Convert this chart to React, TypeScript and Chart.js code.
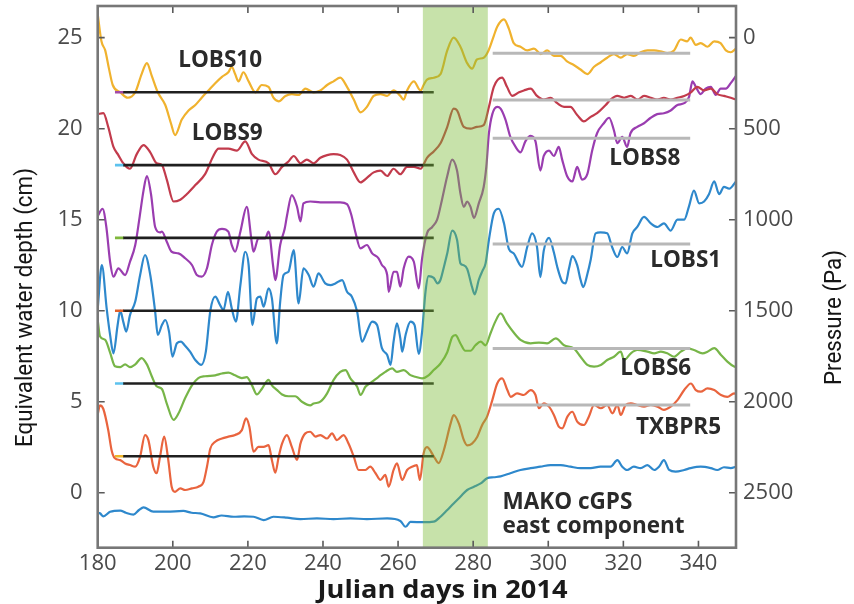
import React, { useEffect, useRef } from "react";
import { Chart, registerables } from "chart.js";

Chart.register(...registerables);

type Pair = [number, number];

// ---- series: [Julian day, equivalent water depth (cm)] ----
const lobs10: Pair[] = [
  [180, 26.3], [181, 24.8], [182, 24.3], [183, 23.3], [184, 22.4], [186, 22.0], [188, 21.7], [190, 22.0],
  [191.7, 23.0], [193.1, 23.6], [194.4, 22.9], [196, 22.0], [198, 21.3], [199.5, 20.3], [200.6, 19.65],
  [202.4, 20.5], [204.2, 21.0], [206, 21.3], [207.7, 21.7], [209.5, 22.1], [211.3, 22.5], [213.1, 22.85],
  [214.8, 23.1], [215.7, 23.4], [216.6, 23.0], [217.5, 22.6], [218.8, 23.1], [220.2, 22.6], [222, 22.0],
  [223.7, 22.4], [225.5, 22.3], [226.8, 21.7], [228.2, 21.5], [230, 21.8], [231.7, 21.9], [233.5, 21.85],
  [235.3, 22.2], [237.5, 22.0], [239.3, 22.1], [241.1, 22.4], [242.8, 22.6], [244.6, 22.8], [246.4, 22.3],
  [248.2, 21.6], [250, 20.9], [251.7, 21.2], [253.5, 21.8], [255.3, 21.9], [257.1, 21.8], [258.8, 22.1],
  [260.6, 21.8], [261.5, 21.6], [262.4, 22.1], [264.2, 22.6], [266, 22.1], [266.8, 22.4], [267.7, 22.7],
  [269.5, 22.8], [271.3, 23.0], [273.1, 24.3], [274.8, 25.0], [276.6, 24.5], [278.4, 23.6], [279.7, 23.3],
  [281, 23.8], [282.8, 23.9], [284.1, 24.3], [285.5, 25.1], [286.4, 25.6], [288.2, 26.0], [289.5, 25.5],
  [290.8, 24.7], [292.6, 24.5], [294.4, 24.3], [296.2, 24.4], [298, 24.1], [299.7, 24.3], [301.5, 24.0],
  [303.3, 24.0], [305, 23.7], [306.8, 23.5], [308.6, 23.25], [310.4, 23.0], [312.2, 23.4], [314, 23.65],
  [315.7, 23.9], [317.5, 24.1], [319.3, 23.9], [321, 24.1], [322.8, 24.0], [324.6, 24.2], [326.4, 24.3],
  [328.2, 24.3], [329.9, 24.25], [331.7, 24.15], [333.5, 24.3], [335.3, 24.9], [337, 24.8], [337.9, 25.0],
  [339.3, 24.6], [340.6, 24.7], [342.4, 24.5], [344.2, 24.8], [345.9, 24.7], [347.3, 24.3], [348.6, 24.2],
  [350, 24.4],
];

const lobs9: Pair[] = [
  [180, 20.8], [181.5, 20.85], [182.8, 20.1], [184.2, 19.0], [185.5, 18.55], [186.8, 18.1], [188.6, 17.8],
  [190.4, 18.6], [192.2, 19.1], [194, 18.7], [195.7, 18.1], [197.1, 18.0], [198.4, 17.2], [200.2, 16.0],
  [202, 16.1], [203.7, 16.4], [206, 16.9], [208.6, 17.5], [210.8, 18.5], [212.2, 18.9], [214.8, 18.9],
  [217.1, 18.8], [219.3, 19.3], [221.1, 18.6], [222.8, 18.3], [225.5, 18.1], [227.3, 17.5], [229.1, 17.9],
  [230.8, 18.2], [232.2, 18.5], [234, 18.1], [235.7, 18.3], [237.5, 18.1], [239.3, 18.4], [241.1, 18.55],
  [242.8, 18.6], [244.6, 18.55], [246.4, 18.3], [248.2, 17.6], [250, 17.05], [251.7, 17.3], [253.5, 17.6],
  [255.3, 17.7], [257.1, 17.4], [258.8, 17.8], [260.6, 17.5], [262.4, 17.9], [264.2, 17.9], [266, 17.8],
  [267.7, 18.4], [269.5, 18.75], [271.3, 19.2], [273.1, 20.1], [274.8, 21.1], [275.7, 21.0], [277.5, 20.1],
  [279.3, 20.0], [281, 20.1], [282.8, 20.2], [284.2, 21.2], [285.5, 22.3], [287.7, 22.8], [289, 22.3],
  [290.4, 21.8], [292.2, 22.0], [293.5, 22.1], [295.3, 22.2], [297, 21.8], [298.8, 21.6], [300.6, 21.7],
  [302.4, 21.4], [304.2, 21.2], [305.9, 21.2], [307.7, 20.75], [309.5, 20.4], [311.3, 20.65], [313, 20.85],
  [315.3, 21.3], [316.6, 21.6], [318.4, 21.8], [320.2, 21.7], [322, 21.8], [323.8, 21.6], [325.5, 21.8],
  [327.3, 21.7], [329, 21.6], [330.8, 21.7], [332.6, 21.6], [334.4, 21.7], [336.2, 21.8], [338, 22.0],
  [339.7, 22.3], [341.5, 22.1], [343.3, 22.2], [345, 21.9], [346.8, 21.8], [348.6, 21.7], [350, 21.6],
];

const lobs8: Pair[] = [
  [180, 15.2], [181.3, 15.6], [182.3, 14.6], [183.3, 12.69], [184.2, 11.87], [185.5, 12.33], [187.3, 11.96],
  [188.6, 12.69], [190, 13.61], [191.2, 15.2], [192.2, 16.6], [193.1, 17.4], [194.2, 16.4], [195.3, 14.6],
  [196.6, 14.3], [197.1, 14.34], [198.4, 13.79], [199.7, 13.24], [201.5, 13.15], [203.3, 12.88], [205.1, 12.51],
  [206.4, 11.96], [207.7, 11.87], [209.1, 12.33], [210.4, 13.61], [211.7, 14.34], [213.1, 14.5], [214.8, 14.34],
  [215.7, 13.61], [216.6, 13.24], [218, 14.34], [219.7, 15.7], [221, 13.8], [221.5, 13.24], [222.8, 13.97],
  [224.6, 13.97], [225.5, 14.34], [226.8, 12.33], [227.3, 11.68], [228.6, 13.61], [229.8, 14.5], [230.4, 15.2],
  [231.7, 16.35], [233.1, 15.7], [234, 14.9], [234.8, 15.9], [236.6, 16.0], [239.3, 15.95], [242, 15.95],
  [244.6, 15.95], [246.4, 15.85], [247.5, 15.3], [248.6, 14.34], [250, 13.42], [251.7, 13.61], [253.1, 13.15],
  [254.8, 12.88], [255.7, 12.51], [257.1, 11.96], [257.5, 11.04], [258.8, 12.14], [259.7, 12.14], [260.6, 11.32],
  [261.5, 12.33], [262.8, 12.97], [264.2, 12.69], [265.5, 11.23], [266.4, 12.88], [267.7, 14.25], [269.1, 14.6],
  [270.4, 15.0], [271.7, 16.1], [273.1, 17.4], [274.4, 18.3], [275.7, 17.7], [276.6, 16.45], [277.5, 15.7],
  [278.4, 16.0], [279.3, 15.7], [280.2, 15.1], [281.5, 15.9], [282.8, 16.8], [283.5, 17.9], [284.2, 19.75],
  [285.1, 20.8], [286.4, 21.2], [287.3, 21.1], [288.6, 20.5], [289.9, 19.55], [291.3, 19.0], [292.6, 18.7],
  [293.9, 19.3], [295.3, 19.6], [296.6, 19.3], [297.9, 17.7], [298.8, 18.5], [300.2, 18.8], [301.5, 18.5],
  [302.8, 19.0], [303.7, 18.3], [305, 17.4], [306.4, 17.1], [307.7, 17.9], [309, 17.2], [310.4, 17.5],
  [311.7, 18.8], [313, 19.75], [314.8, 20.3], [316.2, 20.6], [317.5, 19.9], [318.4, 19.2], [319.7, 19.55],
  [321, 19.0], [321.9, 19.75], [323.7, 20.1], [325.5, 20.3], [327.3, 20.6], [329, 20.8], [330.8, 20.85],
  [332.6, 21.0], [334.4, 21.3], [336.2, 21.4], [337.5, 21.75], [338.4, 22.6], [339.3, 22.3], [340.6, 21.9],
  [341.9, 22.2], [343.3, 22.3], [344.6, 21.85], [345.9, 22.2], [347.3, 22.2], [348.6, 22.5], [350, 22.9],
];

const lobs1: Pair[] = [
  [180, 10.1], [181.1, 12.5], [182.4, 10.1], [183.3, 8.67], [184.2, 7.66], [185.3, 9.2], [186, 10.0],
  [186.8, 9.4], [187.6, 8.85], [188.6, 9.76], [190, 10.5], [191.3, 11.96], [192.6, 13.06], [194, 11.96],
  [195.3, 9.95], [196, 8.67], [197.1, 9.21], [198, 9.49], [199, 8.85], [199.9, 7.48], [201.1, 8.21],
  [202.2, 8.3], [203.1, 8.12], [204.6, 7.75], [206, 7.29], [207.6, 7.02], [208.8, 7.75], [210, 10.0],
  [211.3, 10.77], [212.6, 10.31], [213.5, 10.04], [214.7, 11.04], [215.7, 10.13], [216.8, 9.4], [218, 11.41],
  [219.3, 13.24], [220.2, 12.51], [221.2, 9.21], [222.4, 10.68], [223.3, 10.77], [224.2, 10.22], [225.5, 11.23],
  [226.4, 10.68], [227.7, 8.21], [228.6, 10.49], [229.5, 11.96], [230.8, 12.14], [232.2, 13.33], [233.5, 10.4],
  [234.8, 12.33], [236.2, 11.96], [237.5, 11.32], [238.8, 12.05], [240.6, 11.5], [242, 11.41], [243.3, 11.5],
  [245.1, 11.68], [246.4, 11.04], [247.7, 10.77], [249.1, 9.95], [250.4, 8.3], [251.7, 8.85], [253.1, 9.4],
  [254.4, 9.21], [255.7, 7.94], [257.1, 7.57], [258, 7.02], [258.8, 8.3], [259.7, 9.31], [260.6, 8.48],
  [261.1, 7.75], [262, 8.67], [263.3, 9.4], [264.4, 9.21], [265.5, 7.63], [266.4, 8.85], [267.3, 11.04],
  [268.1, 11.9], [269.5, 11.8], [270.5, 11.5], [271.3, 11.7], [272.2, 12.4], [273.1, 13.15], [274.4, 14.4],
  [275.7, 13.9], [276.6, 12.6], [277.5, 12.5], [278.4, 12.3], [279.7, 11.3], [280.4, 10.9], [281.5, 11.7],
  [282.5, 12.2], [283.3, 12.6], [284.2, 13.9], [285.5, 15.35], [286.8, 15.6], [288.2, 14.8], [289.5, 13.4],
  [290.8, 13.15], [292.2, 12.6], [293, 12.4], [294.4, 13.5], [295.7, 14.25], [297, 13.5], [297.9, 11.85],
  [298.8, 13.3], [300.2, 14.0], [301.5, 13.2], [302.4, 12.4], [303.7, 11.6], [304.6, 11.5], [305.5, 12.3],
  [306.4, 13.0], [307.7, 12.5], [308.6, 11.7], [309.3, 11.3], [310.4, 12.0], [311.3, 12.8], [312.6, 14.25],
  [313.9, 14.3], [315.7, 14.25], [317, 13.5], [318.4, 12.95], [319.7, 13.5], [321, 13.15], [322.4, 14.25],
  [323.7, 14.6], [325.5, 15.15], [327.3, 14.8], [329.1, 14.6], [330.8, 14.8], [332.6, 14.4], [334.4, 15.0],
  [336.2, 15.0], [337.5, 15.75], [338.8, 16.6], [340.2, 15.9], [341.5, 16.0], [342.8, 16.4], [344.2, 17.1],
  [345.5, 16.4], [346.8, 16.8], [348.2, 16.7], [350, 17.1],
];

const lobs6: Pair[] = [
  [180, 9.5], [180.6, 8.6], [182, 8.4], [183.3, 7.7], [184.6, 6.95], [186, 6.9], [187.3, 7.05], [188.6, 6.9],
  [190, 7.05], [191.7, 7.4], [193.1, 7.05], [194.4, 6.4], [195.7, 5.85], [197.1, 5.7], [198.4, 4.9], [200.2, 4.0],
  [201.5, 4.35], [203.3, 5.2], [205.1, 5.9], [206.8, 6.3], [208.6, 6.4], [211.3, 6.45], [213.1, 6.55],
  [214.8, 6.6], [216.6, 6.45], [218.4, 6.3], [219.7, 6.35], [221.1, 5.9], [222.4, 5.4], [223.7, 5.7],
  [225.5, 6.2], [226.4, 5.9], [227.7, 5.65], [229.1, 5.4], [230.8, 5.3], [232.6, 5.3], [234.4, 5.0], [236.6, 4.8],
  [237.5, 4.9], [239.3, 5.0], [241.1, 5.46], [242.8, 6.19], [244.6, 6.64], [246, 6.74], [247.3, 6.28],
  [249.1, 5.82], [250, 5.37], [251.3, 5.82], [253.1, 6.1], [254.8, 6.37], [256.6, 6.64], [258.4, 6.83],
  [259.7, 6.64], [261.5, 6.74], [263.3, 6.46], [264.6, 6.37], [266.4, 6.28], [268.2, 6.46], [269.5, 6.74],
  [271.3, 7.1], [273.1, 7.72], [274.4, 8.55], [275.3, 8.66], [276.6, 8.2], [277.9, 7.8], [279.3, 7.8],
  [280.6, 8.1], [282, 8.3], [283.3, 8.1], [284.6, 8.75], [285.9, 9.4], [287.3, 9.85], [289, 9.3], [290.8, 8.8],
  [292.6, 8.4], [295.3, 8.21], [297.5, 8.25], [299.7, 8.21], [302, 8.48], [304.2, 8.1], [306.8, 7.93],
  [308.6, 7.47], [310.4, 7.02], [312.2, 6.93], [314, 7.02], [315.7, 7.29], [317.5, 7.47], [319.3, 7.75],
  [320.2, 7.29], [322, 7.66], [323.7, 7.84], [326.4, 7.75], [328.2, 7.66], [330, 7.75], [331.7, 7.66],
  [333.5, 7.47], [335.3, 7.75], [337.1, 7.93], [338.8, 7.84], [341.1, 7.66], [342.4, 7.75], [344.2, 7.94],
  [346, 7.57], [347.7, 7.2], [349.5, 6.93], [350, 6.9],
];

const txbpr5: Pair[] = [
  [180, 4.3], [180.6, 4.8], [181.5, 4.6], [182.8, 3.45], [183.7, 2.34], [184.6, 1.89], [186, 1.79], [187.3, 1.61],
  [188.6, 1.52], [190, 1.43], [191.3, 1.98], [192.6, 3.17], [193.5, 2.89], [194.8, 1.43], [195.7, 1.07],
  [196.6, 1.98], [197.7, 3.08], [198.8, 1.79], [199.7, 0.33], [200.6, 0.05], [202, 0.24], [203.3, 0.15],
  [205.1, 0.24], [206.8, 0.33], [208.2, 0.6], [209.1, 1.43], [210, 2.43], [211.3, 2.8], [213.1, 2.98],
  [214.8, 3.08], [216.6, 3.17], [218.4, 3.44], [219.5, 4.08], [220.4, 3.62], [221.5, 2.25], [222.8, 2.52],
  [224.2, 2.52], [225.5, 2.61], [226.4, 1.79], [227.3, 1.1], [228.2, 1.98], [229.1, 2.7], [230.4, 3.17],
  [231.7, 2.52], [233.1, 1.8], [234, 2.7], [235.3, 3.26], [236.6, 3.35], [238, 3.08], [239.3, 3.17],
  [241.1, 2.98], [242.4, 3.26], [243.7, 2.89], [245.5, 3.17], [246.8, 2.7], [248.2, 1.98], [249.5, 1.25],
  [251.3, 1.25], [252.6, 1.43], [254, 1.07], [255.3, 0.7], [256.6, 0.98], [257.5, 0.33], [258.8, 1.25],
  [259.7, 1.61], [261.1, 0.7], [262.4, 1.25], [263.7, 1.43], [265, 1.52], [265.8, 0.7], [266.8, 2.16],
  [267.7, 2.5], [269.5, 2.0], [270.8, 1.63], [272.2, 2.35], [274, 3.81], [274.8, 4.27], [276.2, 3.8],
  [277.5, 2.9], [278.4, 2.6], [279.7, 2.7], [281.1, 3.08], [282.4, 3.72], [283.7, 4.18], [285.1, 5.09],
  [286.4, 6.0], [287.7, 6.28], [289.1, 5.64], [290, 5.27], [291.7, 5.46], [293.5, 5.37], [295.3, 5.64],
  [296.6, 5.37], [297.5, 4.64], [298.8, 4.91], [300.2, 4.73], [301.5, 4.27], [302.8, 3.63], [303.7, 3.54],
  [305.1, 4.18], [306.4, 4.45], [307.7, 3.91], [309.5, 3.72], [310.8, 4.18], [312.2, 4.82], [314, 4.64],
  [315.7, 4.82], [317.1, 4.36], [318.4, 4.82], [319.3, 4.27], [320.6, 4.82], [322, 4.91], [323.7, 4.82],
  [325.5, 4.73], [327.3, 4.82], [329.1, 4.73], [330.8, 4.55], [332.6, 4.73], [334.4, 5.09], [336.2, 5.64],
  [338, 6.0], [339.3, 5.64], [340.6, 5.55], [342.4, 5.73], [344.2, 5.64], [346, 5.37], [347.7, 5.27],
  [349.5, 5.46], [350, 5.4],
];

const makoEast: Pair[] = [
  [180, -1.1], [180.6, -1.13], [181.5, -1.3], [183.3, -1.05], [186, -0.98], [187.5, -1.1], [189.5, -1.2],
  [191, -0.95], [192.2, -0.8], [194.8, -1.04], [198.4, -1.04], [202.8, -1.0], [205, -1.1], [207.3, -1.13],
  [210.8, -1.35], [213, -1.25], [216.2, -1.32], [219, -1.3], [221.5, -1.32], [224.2, -1.5], [226.8, -1.32],
  [230.4, -1.37], [234, -1.45], [238.4, -1.41], [242.8, -1.45], [247.3, -1.41], [251.7, -1.45], [257.1, -1.41],
  [260.6, -1.55], [262, -1.87], [263.3, -1.6], [266.8, -1.62], [269.5, -1.59], [271.3, -1.32], [273.1, -0.95],
  [274.8, -0.59], [276.6, -0.22], [278.4, 0.15], [280.2, 0.33], [282, 0.51], [283.7, 0.79], [285.5, 0.85],
  [287.3, 0.9], [289.9, 1.07], [292.6, 1.25], [295.3, 1.35], [297.9, 1.43], [300.6, 1.52], [303.3, 1.52],
  [305.9, 1.43], [308.6, 1.35], [311.3, 1.35], [313.9, 1.43], [316.6, 1.43], [318.4, 1.79], [319.7, 1.43],
  [321, 1.25], [322.8, 1.43], [324.6, 1.35], [326.4, 1.52], [328.2, 1.25], [329.5, 1.43], [330.8, 1.79],
  [332.2, 1.25], [333.9, 1.16], [336.2, 1.25], [337.9, 1.35], [340.6, 1.43], [343.3, 1.35], [345, 1.25],
  [346.8, 1.4], [348.6, 1.35], [350, 1.43],
];

// ---- reference levels (cm) ----
const preLevels = [22, 18, 14, 10, 6, 2];
const postLevels = [24.14, 21.58, 19.47, 13.67, 7.93, 4.82];
const preStubDays: Pair = [184.6, 187];
const preLineDays: Pair = [186.8, 269.5];
const postLineDays: Pair = [285.2, 337.8];
const slowSlipDays: Pair = [266.6, 283.9];

// ---- axes ----
const xRange: Pair = [180, 350];
const depthRange: Pair = [-3.02, 26.74];
const pressureRange: Pair = [-174, 2802];
const xTicks = [180, 200, 220, 240, 260, 280, 300, 320, 340];
const depthTicks = [0, 5, 10, 15, 20, 25];
const pressureTicks = [0, 500, 1000, 1500, 2000, 2500];

// ---- texts ----
const seriesNames = ["LOBS10", "LOBS9", "LOBS8", "LOBS1", "LOBS6", "TXBPR5"];
const seriesNameAt: Pair[] = [[212.6, 23.83], [214.5, 19.82], [325.7, 18.45], [336.6, 12.84], [328.6, 6.91], [334.7, 3.66]];
const makoText = ["MAKO cGPS", "east component"];
const makoTextAt: Pair[] = [[287.8, -0.46], [287.8, -1.78]];
const xTitle = "Julian days in 2014";
const yTitle = "Equivalent water depth (cm)";
const y2Title = "Pressure (Pa)";

const seriesColors = ["#f0b22e", "#c23b4c", "#9a3db0", "#2e88cc", "#77b548", "#e9643e", "#2e88cc"];
const stubColors = ["#a24aa6", "#5cc2ee", "#80b83c", "#e0602a", "#5cc2ee", "#eeb52a"];

const SANS = "'Open Sans', 'Noto Sans', sans-serif";
const COND = "Roboto, 'Noto Sans', sans-serif";

// draws text horizontally squeezed to a target width (condensed look)
function drawSqueezed(ctx: CanvasRenderingContext2D, text: string, font: string, target: number) {
  ctx.font = font;
  const w = ctx.measureText(text).width;
  const k = target / w;
  ctx.save();
  ctx.scale(k, 1);
  ctx.fillText(text, 0, 0);
  ctx.restore();
}

export default function App() {
  const ref = useRef<HTMLCanvasElement>(null);

  useEffect(() => {
    const canvas = ref.current;
    if (!canvas) return;
    const toXY = (arr: Pair[]) => arr.map(([x, y]) => ({ x, y }));
    const seg = (a: number, b: number, v: number): Pair[] => [[a, v], [b, v]];

    const refSets: any[] = [];
    preLevels.forEach((v) => {
      refSets.push({ data: toXY(seg(preLineDays[0], preLineDays[1], v)), borderColor: "#1f1f1f", borderWidth: 2.6, pointRadius: 0 });
    });
    postLevels.forEach((v) => {
      refSets.push({ data: toXY(seg(postLineDays[0], postLineDays[1], v)), borderColor: "#b8b8b8", borderWidth: 3, pointRadius: 0 });
    });
    preLevels.forEach((v, i) => {
      refSets.push({ data: toXY(seg(preStubDays[0], preStubDays[1], v)), borderColor: stubColors[i], borderWidth: 2.6, pointRadius: 0 });
    });

    const series = [lobs10, lobs9, lobs8, lobs1, lobs6, txbpr5, makoEast];
    const seriesSets = series.map((s, i) => ({
      data: toXY(s),
      borderColor: seriesColors[i],
      borderWidth: 2.2,
      pointRadius: 0,
      cubicInterpolationMode: "monotone" as const,
    }));

    const fixTicks = (vals: number[]) => (s: any) => {
      s.ticks = vals.map((v) => ({ value: v }));
    };
    const noPad = (w: number | null, h: number | null) => (s: any) => {
      if (w !== null) s.width = w;
      if (h !== null) s.height = h;
      s.paddingTop = 0;
      s.paddingBottom = 0;
      s.paddingLeft = 0;
      s.paddingRight = 0;
    };

    const decor = {
      id: "decor",
      afterDatasetsDraw(chart: any) {
        const { ctx, chartArea: a, scales } = chart;
        const x0 = scales.x.getPixelForValue(slowSlipDays[0]);
        const x1 = scales.x.getPixelForValue(slowSlipDays[1]);
        ctx.save();
        ctx.fillStyle = "rgba(122,186,52,0.42)";
        ctx.fillRect(x0, a.top, x1 - x0, a.bottom - a.top);
        ctx.restore();
      },
      afterDraw(chart: any) {
        const { ctx, chartArea: a, scales } = chart;
        ctx.save();
        // inward ticks
        ctx.strokeStyle = "#5a5a5a";
        ctx.lineWidth = 1.6;
        const tl = 7;
        ctx.beginPath();
        scales.x.ticks.forEach((t: any) => {
          const px = scales.x.getPixelForValue(t.value);
          if (px <= a.left + 2 || px >= a.right - 2) return;
          ctx.moveTo(px, a.bottom); ctx.lineTo(px, a.bottom - tl);
          ctx.moveTo(px, a.top); ctx.lineTo(px, a.top + tl);
        });
        scales.y.ticks.forEach((t: any) => {
          const py = scales.y.getPixelForValue(t.value);
          ctx.moveTo(a.left, py); ctx.lineTo(a.left + tl, py);
        });
        scales.y1.ticks.forEach((t: any) => {
          const py = scales.y1.getPixelForValue(t.value);
          ctx.moveTo(a.right, py); ctx.lineTo(a.right - tl, py);
        });
        ctx.stroke();
        // frame
        ctx.strokeStyle = "#777777";
        ctx.lineWidth = 2.6;
        ctx.strokeRect(a.left, a.top, a.right - a.left, a.bottom - a.top);

        // series names
        ctx.fillStyle = "#2a2a2a";
        ctx.textAlign = "center";
        ctx.textBaseline = "alphabetic";
        const nameSize = 22.5;
        ctx.font = `bold ${nameSize}px ${SANS}`;
        seriesNames.forEach((n, i) => {
          const [dx, dy] = seriesNameAt[i];
          ctx.fillText(n, scales.x.getPixelForValue(dx), scales.y.getPixelForValue(dy) + nameSize * 0.357);
        });
        ctx.textAlign = "left";
        makoText.forEach((n, i) => {
          const [dx, dy] = makoTextAt[i];
          ctx.fillText(n, scales.x.getPixelForValue(dx), scales.y.getPixelForValue(dy) + nameSize * 0.357);
        });

        // axis titles (condensed)
        ctx.fillStyle = "#151515";
        ctx.save();
        ctx.translate(26, 307.5);
        ctx.rotate(-Math.PI / 2);
        ctx.textAlign = "center";
        ctx.textBaseline = "middle";
        drawSqueezed(ctx, yTitle, `normal 23px ${COND}`, 279);
        ctx.restore();

        ctx.save();
        ctx.translate(835, 317.5);
        ctx.rotate(-Math.PI / 2);
        ctx.textAlign = "center";
        ctx.textBaseline = "middle";
        drawSqueezed(ctx, y2Title, `normal 23px ${COND}`, 135);
        ctx.restore();

        ctx.save();
        ctx.translate(442.5, 598);
        ctx.textAlign = "center";
        ctx.textBaseline = "alphabetic";
        ctx.fillStyle = "#1a1a1a";
        drawSqueezed(ctx, xTitle, `bold 25px ${SANS}`, 250);
        ctx.restore();
        ctx.restore();
      },
    };

    const tickFont = { family: SANS, size: 22 };
    const tickColor = "#4a4a4a";

    const chart = new Chart(canvas, {
      type: "line",
      data: { datasets: [...refSets, ...seriesSets] as any },
      options: {
        animation: false,
        responsive: false,
        devicePixelRatio: 1,
        events: [],
        layout: { padding: { top: 6, left: 0, right: 0, bottom: 0 } },
        plugins: { legend: { display: false }, tooltip: { enabled: false } },
        elements: { line: { tension: 0 } },
        scales: {
          x: {
            type: "linear",
            min: xRange[0],
            max: xRange[1],
            afterBuildTicks: fixTicks(xTicks),
            afterFit: noPad(null, 56.3),
            grid: { display: false, drawTicks: false },
            border: { display: false },
            ticks: {
              autoSkip: false, maxRotation: 0,
              color: tickColor, font: tickFont, padding: 3,
              callback: (v: any) => String(v),
            },
          },
          y: {
            type: "linear",
            position: "left",
            min: depthRange[0],
            max: depthRange[1],
            afterBuildTicks: fixTicks(depthTicks),
            afterFit: noPad(97.7, null),
            grid: { display: false, drawTicks: false },
            border: { display: false },
            ticks: {
              autoSkip: false,
              color: tickColor, font: tickFont, padding: 15,
              callback: (v: any) => String(v),
            },
          },
          y1: {
            type: "linear",
            position: "right",
            display: true,
            reverse: true,
            min: pressureRange[0],
            max: pressureRange[1],
            afterBuildTicks: fixTicks(pressureTicks),
            afterFit: noPad(118, null),
            grid: { display: false, drawTicks: false },
            border: { display: false },
            ticks: {
              autoSkip: false,
              color: tickColor, font: tickFont, padding: 7,
              callback: (v: any) => String(v),
            },
          },
        },
      } as any,
      plugins: [decor],
    });
    return () => chart.destroy();
  }, []);

  return (
    <div style={{ position: "absolute", left: 0, top: 0, width: 854, height: 604, background: "#ffffff" }}>
      <canvas ref={ref} width={854} height={604} style={{ width: 854, height: 604, display: "block" }} />
    </div>
  );
}
